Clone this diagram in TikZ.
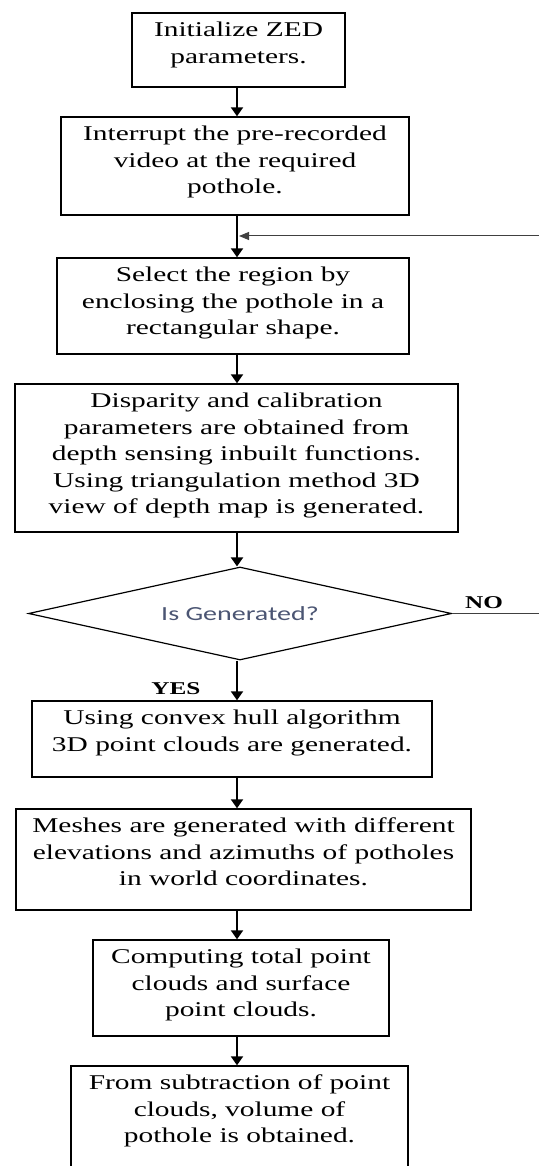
\documentclass[tikz,border=0pt]{standalone}
\usepackage{fontspec}
\setmainfont{Liberation Serif}[FakeStretch=1.4]
\newfontfamily\decfont{Carlito}[FakeStretch=1.4]
\usetikzlibrary{positioning,shapes.geometric,arrows.meta}
\definecolor{qtext}{RGB}{75,85,115}

\begin{document}
\begin{tikzpicture}[x=1pt,y=-1pt,
  stepbox/.style={draw=black,line width=1.4pt,rectangle},
  steptext/.style={align=center,font=\fontsize{21pt}{26.5pt}\selectfont},
  flow/.style={line width=2pt,-{Triangle[width=12pt,length=9pt]}},
  loopback/.style={line width=1pt,black!75,-{Triangle[width=8pt,length=10pt]}},
  answer/.style={font=\fontsize{18pt}{20pt}\selectfont\bfseries}]
\tikzstyle{every node}+=[inner sep=0pt]
\path[use as bounding box,fill=white] (0,0) rectangle (538,1166);
\coordinate (col) at (237,0);
\node[stepbox,minimum width=213pt,minimum height=74pt] (init) at (238.5,50) {};
\node[steptext,below=9.5pt of init.north] (initTxt) {Initialize ZED\\parameters.};
\node[stepbox,minimum width=348pt,minimum height=98pt] (interrupt) at (235,166) {};
\node[steptext,below=9.5pt of interrupt.north] (interruptTxt) {Interrupt the pre-recorded\\video at the required\\pothole.};
\node[stepbox,minimum width=352pt,minimum height=96pt] (select) at (233,306) {};
\node[steptext,below=9.5pt of select.north] (selectTxt) {Select the region by\\enclosing the pothole in a\\rectangular shape.};
\node[stepbox,minimum width=443pt,minimum height=148pt] (disparity) at (236.5,458) {};
\node[steptext,below=9.5pt of disparity.north] (disparityTxt) {Disparity and calibration\\parameters are obtained from\\depth sensing inbuilt functions.\\Using triangulation method 3D\\view of depth map is generated.};
\node[draw,diamond,line width=1.2pt,aspect=4.5,minimum width=423pt,minimum height=93pt,
  font=\decfont\fontsize{20pt}{22pt}\selectfont,text=qtext] (gen) at (240,613.5) {Is Generated?};
\node[stepbox,minimum width=400pt,minimum height=76pt] (hull) at (232,739) {};
\node[steptext,below=9.5pt of hull.north] (hullTxt) {Using convex hull algorithm\\3D point clouds are generated.};
\node[stepbox,minimum width=455pt,minimum height=101pt] (meshes) at (243.5,859.5) {};
\node[steptext,below=9.5pt of meshes.north] (meshesTxt) {Meshes are generated with different\\elevations and azimuths of potholes\\in world coordinates.};
\node[stepbox,minimum width=296pt,minimum height=96pt] (total) at (241,988) {};
\node[steptext,below=9.5pt of total.north] (totalTxt) {Computing total point\\clouds and surface\\point clouds.};
\node[stepbox,minimum width=337pt,minimum height=110pt] (volume) at (239.5,1121) {};
\node[steptext,below=9.5pt of volume.north] (volumeTxt) {From subtraction of point\\clouds, volume of\\pothole is obtained.};
\node[answer] (yes) at (176,689) {YES};
\node[answer] (no) at (484,603) {NO};
\draw[flow] (init.south -| col) -- (interrupt.north -| col);
\draw[flow] (interrupt.south -| col) -- (select.north -| col);
\draw[flow] (select.south -| col) -- (disparity.north -| col);
\draw[flow] (disparity.south -| col) -- (gen.north -| col);
\draw[flow] (gen.south -| col) -- (hull.north -| col);
\draw[flow] (hull.south -| col) -- (meshes.north -| col);
\draw[flow] (meshes.south -| col) -- (total.north -| col);
\draw[flow] (total.south -| col) -- (volume.north -| col);
\coordinate (edge) at (545,613.5);
\coordinate (rejoin) at (239,236);
\draw[loopback] (gen.east) -- (edge) |- (rejoin);
\end{tikzpicture}
\end{document}
